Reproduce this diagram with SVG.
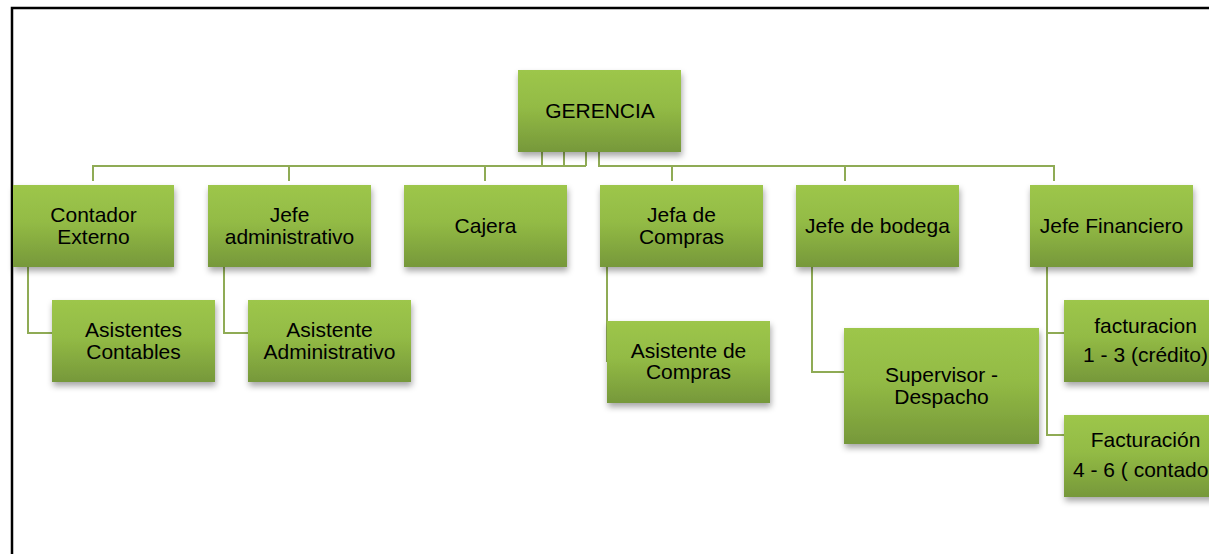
<svg xmlns="http://www.w3.org/2000/svg" width="1209" height="554" viewBox="0 0 1209 554">
<style>
.box{fill:url(#g);filter:url(#sh)}
.t{font-family:"Liberation Sans",Arial,sans-serif;font-size:21px;fill:#000;text-anchor:middle}
.c{fill:none;stroke:#8fab55;stroke-width:2}
</style>
<defs>
<linearGradient id="g" x1="0" y1="0" x2="0" y2="1">
<stop offset="0" stop-color="#9dc64b"/>
<stop offset="0.45" stop-color="#93bb45"/>
<stop offset="1" stop-color="#76983a"/>
</linearGradient>
<filter id="sh" x="-10%" y="-10%" width="125%" height="140%">
<feDropShadow dx="1" dy="4" stdDeviation="3" flood-color="#000" flood-opacity="0.35"/>
</filter>
</defs>
<rect width="1209" height="554" fill="#fff"/>
<path d="M12 554 V8 H1209" fill="none" stroke="#000" stroke-width="2.5"/>
<g id="connectors">
<path class="c" d="M542 152 V166 M564 152 V166 M586 152 V166 M93 181 V166 H586 M289 166 V181 M485 166 V181"/>
<path class="c" d="M599 152 V166 H1054 V181 M672 166 V181 M845 166 V181"/>
<path class="c" d="M28 267 V333 H52"/>
<path class="c" d="M224 267 V333 H248"/>
<path class="c" d="M607 267 V362"/>
<path class="c" d="M812 267 V372 H844"/>
<path class="c" d="M1047 267 V435 H1064 M1047 333 H1064"/>
</g>
<g id="gerencia"><rect class="box" x="518" y="70" width="163" height="82"/><text class="t" x="600" y="118">GERENCIA</text></g>
<g id="contador"><rect class="box" x="13" y="185" width="161" height="82"/><text class="t" x="93.5" y="222">Contador</text><text class="t" x="93.5" y="244">Externo</text></g>
<g id="jefe-admin"><rect class="box" x="208" y="185" width="163" height="82"/><text class="t" x="289.5" y="222">Jefe</text><text class="t" x="289.5" y="244">administrativo</text></g>
<g id="cajera"><rect class="box" x="404" y="185" width="163" height="82"/><text class="t" x="485.5" y="233">Cajera</text></g>
<g id="jefa-compras"><rect class="box" x="600" y="185" width="163" height="82"/><text class="t" x="681.5" y="222">Jefa de</text><text class="t" x="681.5" y="244">Compras</text></g>
<g id="jefe-bodega"><rect class="box" x="796" y="185" width="163" height="82"/><text class="t" x="877.5" y="233">Jefe de bodega</text></g>
<g id="jefe-financiero"><rect class="box" x="1030" y="185" width="163" height="82"/><text class="t" x="1111.5" y="233">Jefe Financiero</text></g>
<g id="asist-contables"><rect class="box" x="52" y="300" width="163" height="82"/><text class="t" x="133.5" y="337">Asistentes</text><text class="t" x="133.5" y="359">Contables</text></g>
<g id="asist-admin"><rect class="box" x="248" y="300" width="163" height="82"/><text class="t" x="329.5" y="337">Asistente</text><text class="t" x="329.5" y="359">Administrativo</text></g>
<g id="asist-compras"><rect class="box" x="607" y="321" width="163" height="82"/><text class="t" x="688.5" y="358">Asistente de</text><text class="t" x="688.5" y="379">Compras</text></g>
<g id="supervisor"><rect class="box" x="844" y="328" width="195" height="116"/><text class="t" x="941.5" y="382">Supervisor -</text><text class="t" x="941.5" y="404">Despacho</text></g>
<g id="facturacion-credito"><rect class="box" x="1064" y="300" width="163" height="82"/><text class="t" x="1145.5" y="333">facturacion</text><text class="t" x="1145.5" y="362">1 - 3 (crédito)</text></g>
<g id="facturacion-contado"><rect class="box" x="1064" y="415" width="163" height="82"/><text class="t" x="1145.5" y="447">Facturación</text><text class="t" x="1073" y="477" style="text-anchor:start">4 - 6 ( contado</text></g>
</svg>
